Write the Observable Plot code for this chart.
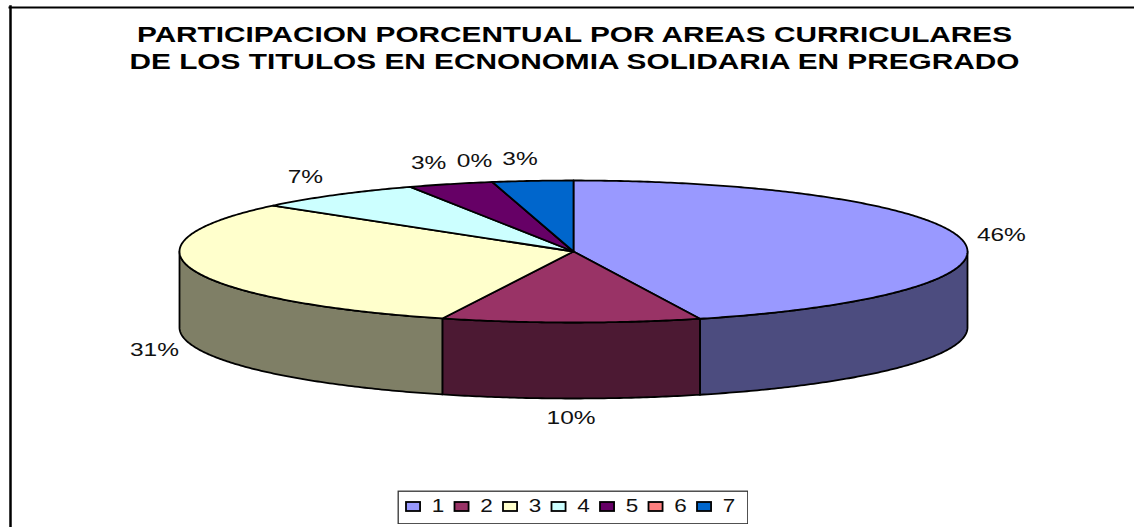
<!DOCTYPE html>
<html>
<head>
<meta charset="utf-8">
<script src="https://cdn.jsdelivr.net/npm/d3@7"></script>
<script src="https://cdn.jsdelivr.net/npm/@observablehq/plot@0.6"></script>
<style>
html,body{margin:0;padding:0;background:#fff;overflow:hidden}
#chart{position:relative;width:1134px;height:527px;overflow:hidden}
#chart svg{position:absolute;background:transparent;max-width:none}
#chart text{font-family:"Liberation Sans",Arial,sans-serif}
</style>
</head>
<body>
<div id="chart"></div>
<script>
const titleLine1 = "PARTICIPACION PORCENTUAL POR AREAS CURRICULARES";
const titleLine2 = "DE LOS TITULOS EN ECNONOMIA SOLIDARIA EN PREGRADO";
const categories = ["1","2","3","4","5","6","7"];
const shares = [44.8,10.6,30.8,7.0,3.5,0,3.3];
const labels = ["46%","10%","31%","7%","3%","0%","3%"];
const topColors = ["#9999FF","#993366","#FFFFCC","#CCFFFF","#660066","#FF8080","#0066CC"];
const sideColors = ["#4C4C7F","#4C1933","#7F7F66","#667F7F","#330033","#7F4040","#003366"];

const DEPTH = 76/71; // wall height, in units of the ellipse's minor radius
const total = d3.sum(shares);
const cum = d3.cumsum(shares);
const slices = categories.map((c,i)=>{
  const a1 = (cum[i]-shares[i])/total*2*Math.PI, a2 = cum[i]/total*2*Math.PI;
  return {c,i,a1,a2,mid:(a1+a2)/2};
});
const px = a=>Math.sin(a), py = a=>-Math.cos(a);
const arc = (a1,a2)=>{
  const n = Math.max(1,Math.ceil((a2-a1)/0.01));
  return d3.range(n+1).map(k=>a1+(a2-a1)*k/n);
};
const topPts = slices.flatMap(s=>[
  {id:s.c,fill:topColors[s.i],x:0,y:0},
  ...arc(s.a1,s.a2).map(a=>({id:s.c,fill:topColors[s.i],x:px(a),y:py(a)}))
]);
const sidePts = slices.flatMap(s=>{
  const a1=Math.max(s.a1,Math.PI/2), a2=Math.min(s.a2,3*Math.PI/2);
  if(a2<=a1) return [];
  const f=arc(a1,a2);
  return [
    ...f.map(a=>({id:s.c,fill:sideColors[s.i],x:px(a),y:py(a)})),
    ...f.slice().reverse().map(a=>({id:s.c,fill:sideColors[s.i],x:px(a),y:py(a)+DEPTH}))
  ];
});
const labelPts = slices.map(s=>{
  const sx=px(s.mid), sy=py(s.mid);
  const out=Math.abs(sx)<0.05?0:0.1*Math.sign(sx)*Math.sqrt(Math.abs(sx));
  return {t:labels[s.i], x:sx+out, y:sy*1.29+(sy>0?DEPTH:0)};
});

const main = Plot.plot({
  width:1134,height:527,margin:0,
  x:{domain:[-1,1],range:[179,967],axis:null},
  y:{domain:[-1,1],range:[180,322],axis:null},
  color:{type:"identity"},
  marks:[
    Plot.frame({anchor:"left",stroke:"#000",strokeWidth:2.5,insetLeft:10,insetTop:6}),
    Plot.frame({anchor:"top",stroke:"#000",strokeWidth:2,insetTop:7,insetLeft:9,insetRight:1}),
    Plot.text([titleLine1],{text:d=>d,frameAnchor:"top",lineAnchor:"top",dx:7,dy:26,fontSize:22,fontWeight:"bold",fill:"#000"}),
    Plot.text([titleLine2],{text:d=>d,frameAnchor:"top",lineAnchor:"top",dx:7,dy:53,fontSize:22,fontWeight:"bold",fill:"#000"}),
    Plot.line(sidePts,{x:"x",y:"y",z:"id",fill:"fill",stroke:"#000",strokeWidth:1.8,curve:"linear-closed"}),
    Plot.line(topPts,{x:"x",y:"y",z:"id",fill:"fill",stroke:"#000",strokeWidth:1.8,curve:"linear-closed"}),
    Plot.text(labelPts,{x:"x",y:"y",text:"t",fontSize:18,dy:-1,fill:"#111"})
  ]
});
main.style.left="0";main.style.top="0";

const legendData = categories.map((c,i)=>({c,i,fill:topColors[i]}));
const legend = Plot.plot({
  width:351,height:34,margin:0,
  x:{domain:[0,7],range:[9,348.5],axis:null},
  y:{domain:[0,1],range:[12,21],axis:null},
  color:{type:"identity"},
  marks:[
    Plot.frame({stroke:"#333",strokeWidth:1.3,fill:"#fff",inset:0.7}),
    Plot.rect(legendData,{x1:d=>d.i,x2:d=>d.i+0.29,y1:()=>0,y2:()=>1,fill:"fill",stroke:"#000",strokeWidth:1.8}),
    Plot.text(legendData,{x:d=>d.i+0.52,y:()=>0.5,text:"c",textAnchor:"start",fontSize:18,dy:-1,fill:"#111"})
  ]
});
legend.style.left="397px";legend.style.top="490px";

const host=document.getElementById("chart");
host.append(main,legend);

// the reference picture is stretched horizontally: widen the glyphs to match
const stretch=(root,k)=>root.querySelectorAll("text").forEach(t=>{
  const len=t.getComputedTextLength();
  t.setAttribute("textLength",len*k);
  t.setAttribute("lengthAdjust","spacingAndGlyphs");
});
stretch(main,1.36);
stretch(legend,1.25);
const setLen=(root,txt,w)=>root.querySelectorAll("text").forEach(t=>{ if(t.textContent===txt) t.setAttribute("textLength",w); });
setLen(main,titleLine1,875);
setLen(main,titleLine2,890);
</script>
</body>
</html>
